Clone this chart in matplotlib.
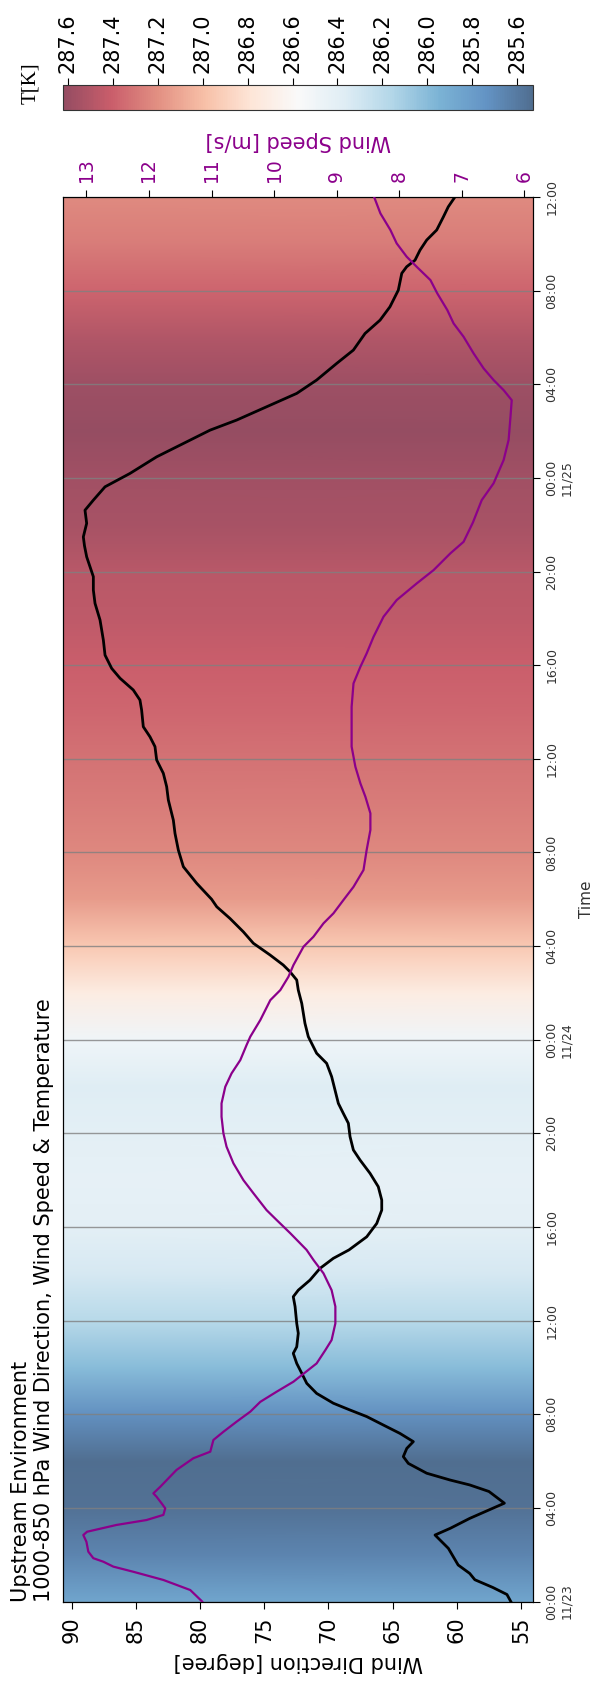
import matplotlib
matplotlib.use("Agg")
import matplotlib.pyplot as plt
import matplotlib.font_manager as fm
from matplotlib.colors import ListedColormap
import numpy as np

# ---------------- data ----------------
# time in hours since 2023-11-23 00:00
t_temp = [0, 2, 4, 6, 8, 10, 12, 14, 16, 18, 20, 22, 24, 26, 28, 30,
          32, 34, 36, 38, 40, 42, 44, 46, 48, 50, 52, 54, 56, 58, 60]
temp_k = [285.85, 285.66, 285.55, 285.53, 285.72, 286.00, 286.18, 286.33,
          286.40, 286.42, 286.40, 286.37, 286.50, 286.72, 286.95, 287.15,
          287.23, 287.28, 287.32, 287.37, 287.40, 287.45, 287.48, 287.54,
          287.57, 287.62, 287.58, 287.50, 287.38, 287.28, 287.22]

t_dir = [0, 0.3, 0.6, 0.93, 1.2, 1.56, 2.27, 2.84, 3.13, 3.55, 4.2, 4.7,
         4.98, 5.19, 5.48, 5.9, 6.19, 6.54, 6.83, 7.18, 7.54, 7.9, 8.18,
         8.47, 8.89, 9.32, 9.75, 10.17, 10.6, 10.88, 11.46, 11.88, 12.6,
         13.02, 13.3, 13.73, 14.23, 14.66, 15.02, 15.58, 16.15, 16.72,
         17.15, 17.72, 18.29, 18.86, 19.29, 19.86, 20.43, 20.85, 21.28,
         21.85, 22.42, 22.99, 23.42, 24.13, 24.7, 25.55, 26.12, 26.55,
         26.9, 27.19, 27.62, 28.12, 28.61, 29.18, 29.68, 30.0, 30.68,
         31.39, 32.1, 32.81, 33.38, 34.24, 34.81, 35.38, 35.95, 36.52,
         36.94, 37.37, 38.08, 38.51, 38.94, 39.44, 39.86, 40.43, 41.07,
         41.93, 42.64, 43.21, 43.78, 44.63, 45.1, 45.48, 46.06, 46.62,
         47.05, 47.62, 48.19, 48.9, 49.47, 50.04, 50.47, 51.04, 51.61,
         52.18, 52.89, 53.46, 54.17, 54.74, 55.31, 56.02, 56.74, 57.02,
         57.3, 57.73, 58.16, 58.59, 59.15, 59.58, 60.0]
wind_dir = [55.8, 56.1, 57.2, 58.6, 59.0, 59.9, 60.66, 61.7, 60.5, 59.0,
            56.3, 57.5, 59.0, 60.53, 62.35, 63.78, 64.17, 63.9, 63.39,
            64.43, 65.73, 67.02, 68.32, 69.62, 70.92, 71.69, 72.08, 72.47,
            72.74, 72.47, 72.35, 72.47, 72.6, 72.74, 72.35, 71.44, 70.66,
            69.62, 68.4, 67.02, 66.24, 65.85, 65.85, 66.12, 66.76, 67.54,
            68.06, 68.32, 68.45, 68.84, 69.23, 69.49, 69.75, 70.14, 70.92,
            71.57, 71.83, 72.08, 72.35, 72.47, 72.99, 73.52, 74.55, 75.85,
            76.63, 77.67, 78.7, 79.1, 80.26, 81.3, 81.69, 81.95, 82.08,
            82.47, 82.6, 82.86, 83.38, 83.51, 83.9, 84.42, 84.55, 84.68,
            85.2, 86.23, 86.88, 87.4, 87.53, 87.79, 88.18, 88.31, 88.31,
            88.83, 89.0, 89.09, 88.83, 88.96, 88.31, 87.4, 85.46, 83.38,
            81.3, 79.22, 77.15, 74.81, 72.47, 70.92, 69.36, 68.06, 67.15,
            65.98, 65.21, 64.56, 64.29, 63.91, 63.26, 62.87, 62.35, 61.57,
            61.05, 60.67, 60.15]

t_spd = [0, 0.49, 0.92, 1.27, 1.49, 1.7, 1.85, 2.13, 2.55, 2.84, 2.98,
         3.27, 3.48, 3.7, 3.98, 4.2, 4.48, 4.62, 4.9, 5.62, 6.12, 6.4,
         6.9, 7.25, 7.68, 8.11, 8.53, 8.96, 9.39, 9.96, 10.17, 10.74,
         11.17, 11.88, 12.6, 13.3, 14.02, 14.59, 15.02, 15.73, 16.3,
         16.72, 17.44, 18.0, 18.72, 19.43, 20.0, 20.71, 21.28, 21.99,
         22.56, 23.13, 23.77, 24.13, 24.84, 25.69, 26.12, 26.69, 27.19,
         27.97, 28.4, 28.97, 29.4, 29.97, 30.53, 31.25, 32.1, 32.96,
         33.67, 34.38, 34.95, 35.66, 36.52, 37.37, 38.22, 39.22, 39.93,
         40.5, 41.21, 42.07, 42.78, 43.49, 44.06, 44.78, 45.27, 46.1,
         47.05, 47.77, 48.76, 49.62, 50.61, 51.32, 51.75, 52.18, 52.68,
         53.32, 54.03, 54.6, 55.17, 55.88, 56.45, 57.02, 57.45, 58.02,
         58.59, 59.3, 60.0]
wind_spd = [11.15, 11.34, 11.77, 12.25, 12.57, 12.73, 12.89, 12.97, 13.0,
            13.05, 12.99, 12.52, 12.04, 11.77, 11.74, 11.8, 11.88, 11.93,
            11.82, 11.56, 11.29, 11.02, 10.97, 10.81, 10.6, 10.38, 10.22,
            9.96, 9.69, 9.42, 9.32, 9.18, 9.08, 9.02, 9.02, 9.08, 9.21,
            9.37, 9.48, 9.74, 9.96, 10.12, 10.33, 10.49, 10.65, 10.76,
            10.81, 10.84, 10.84, 10.78, 10.68, 10.54, 10.44, 10.38, 10.22,
            10.06, 9.9, 9.77, 9.69, 9.53, 9.37, 9.21, 9.05, 8.89, 8.73,
            8.57, 8.52, 8.46, 8.46, 8.54, 8.62, 8.7, 8.76, 8.76, 8.76,
            8.73, 8.62, 8.52, 8.41, 8.25, 8.04, 7.72, 7.45, 7.18, 6.97,
            6.82, 6.68, 6.49, 6.33, 6.25, 6.22, 6.2, 6.33, 6.49, 6.65,
            6.81, 6.97, 7.13, 7.23, 7.39, 7.5, 7.72, 7.88, 8.04, 8.14,
            8.3, 8.4]

time_ticks = [0, 4, 8, 12, 16, 20, 24, 28, 32, 36, 40, 44, 48, 52, 56, 60]
time_labels = ["00:00\n11/23", "04:00", "08:00", "12:00", "16:00", "20:00",
               "00:00\n11/24", "04:00", "08:00", "12:00", "16:00", "20:00",
               "00:00\n11/25", "04:00", "08:00", "12:00"]
dir_ticks = [90, 85, 80, 75, 70, 65, 60, 55]
spd_ticks = [13, 12, 11, 10, 9, 8, 7, 6]
temp_ticks = [285.6, 285.8, 286.0, 286.2, 286.4, 286.6, 286.8, 287.0,
              287.2, 287.4, 287.6]

# ---------------- style ----------------
names = {f.name for f in fm.fontManager.ttflist}
narrow = "Liberation Sans Narrow" if "Liberation Sans Narrow" in names else "DejaVu Sans"
serif = "Liberation Serif" if "Liberation Serif" in names else "DejaVu Serif"
PURPLE = "#8B008B"
W, H = 599, 1685

# RdBu_r seen through 70 % opacity on white, made opaque
base = plt.get_cmap("RdBu_r")(np.linspace(0, 1, 256))
base[:, :3] = base[:, :3] * 0.7 + 0.3
cmap = ListedColormap(base, name="RdBu_r_soft")

fig = plt.figure(figsize=(W / 100, H / 100), dpi=100)
x0, x1, ytop, ybot = 63.3, 533.0, 197.0, 1601.5
ax = fig.add_axes([x0 / W, (H - ybot) / H, (x1 - x0) / W, (ybot - ytop) / H])

dir_lim = (90.65, 54.07)
spd_lim = (13.37, 5.86)

# temperature background (function of time only)
tt = np.array(t_temp, dtype=float)
TT = np.array(temp_k, dtype=float)
X = np.column_stack([np.full_like(tt, dir_lim[0]), np.full_like(tt, dir_lim[1])])
Y = np.column_stack([tt, tt])
C = np.column_stack([TT, TT])
mesh = ax.pcolormesh(X, Y, C, cmap=cmap, shading="gouraud", zorder=0,
                     antialiased=False)

ax.plot(wind_dir, t_dir, color="black", lw=2.0, zorder=3)
ax.set_xlim(*dir_lim)
ax.set_ylim(0, 60)

ax.set_xticks(dir_ticks)
ax.set_xticklabels([str(v) for v in dir_ticks], rotation=90, fontsize=15)
ax.tick_params(axis="x", length=5, pad=6)
ax.set_xlabel("Wind Direction [degree]", rotation=180, fontsize=15, labelpad=6)

ax.yaxis.tick_right()
ax.yaxis.set_label_position("right")
ax.set_yticks(time_ticks)
ax.set_yticklabels(time_labels, rotation=90, fontsize=9, family=narrow,
                   color="#333333", ha="left", va="center", multialignment="center")
ax.tick_params(axis="y", length=5, pad=4)
ax.set_ylabel("Time", rotation=90, fontsize=11, family=narrow, color="#333333",
              labelpad=4)
ax.grid(axis="y", color="#808080", lw=1.0, alpha=0.8)
ax.grid(axis="x", visible=False)

ax2 = ax.twiny()
ax2.plot(wind_spd, t_spd, color=PURPLE, lw=1.6, zorder=3)
ax2.set_xlim(*spd_lim)
ax2.set_xticks(spd_ticks)
ax2.set_xticklabels([str(v) for v in spd_ticks], rotation=90, fontsize=13.5,
                    color=PURPLE)
ax2.tick_params(axis="x", length=5, pad=6)
ax2.set_xlabel("Wind Speed [m/s]", rotation=180, fontsize=15, color=PURPLE,
               labelpad=8)

# title (rotated like the rest of the figure)
ax.text(-0.02, 0.0, "Upstream Environment\n1000-850 hPa Wind Direction, Wind Speed & Temperature",
        transform=ax.transAxes, rotation=90, ha="right", va="bottom",
        multialignment="left", fontsize=15)

# colorbar
cy0, cy1 = 85.0, 110.0
cax = fig.add_axes([x0 / W, (H - cy1) / H, (x1 - x0) / W, (cy1 - cy0) / H])
cb = fig.colorbar(mesh, cax=cax, orientation="horizontal")
cax.invert_xaxis()
cax.xaxis.set_ticks_position("top")
cb.set_ticks(temp_ticks)
cb.set_ticklabels([f"{v:.1f}" for v in temp_ticks])
for lab in cax.get_xticklabels():
    lab.set_rotation(90)
    lab.set_fontsize(15)
cax.tick_params(axis="x", length=5, pad=4)
cb.outline.set_edgecolor("#333333")
fig.text(31 / W, 1 - 83 / H, "T[K]", rotation=90, ha="center", va="center",
         fontsize=15, family=serif)

fig.savefig("out.png", dpi=100)
